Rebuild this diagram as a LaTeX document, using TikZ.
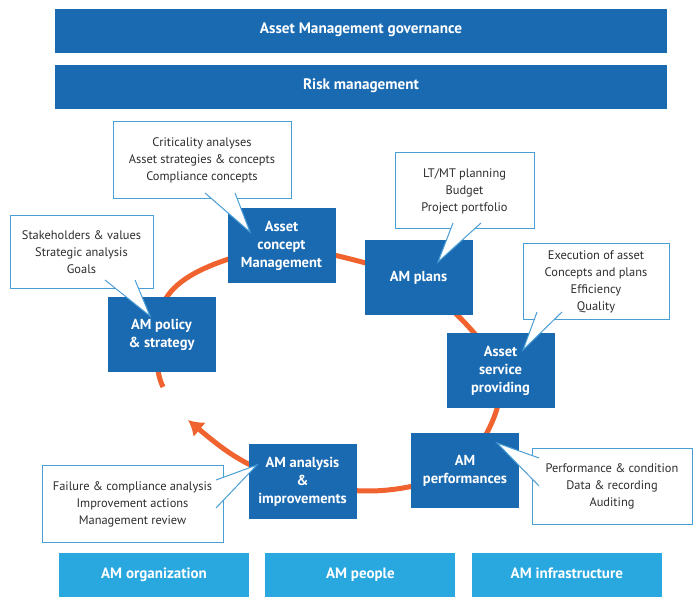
\documentclass[tikz,border=0pt]{standalone}
\usepackage{fontspec}
\setmainfont{PT Sans}
\usepackage{xcolor}
\usepackage{tikz}
\usetikzlibrary{arrows.meta,positioning}

\definecolor{amblue}{RGB}{26,106,178}
\definecolor{amlight}{RGB}{41,168,224}
\definecolor{amline}{RGB}{74,158,214}
\definecolor{amorange}{RGB}{240,98,46}
\definecolor{amtext}{RGB}{45,45,45}

\tikzset{
  bar/.style={fill=amblue, text=white, font=\bfseries\fontsize{15.2}{18}\selectfont,
    minimum width=612pt, minimum height=44pt, inner sep=0pt,
    text height=1.6ex, text depth=.4ex},
  pillar/.style={fill=amlight, text=white, font=\bfseries\fontsize{15}{18}\selectfont,
    minimum width=190pt, minimum height=44pt, inner sep=0pt,
    text height=1.6ex, text depth=.4ex},
  phase/.style={fill=amblue, text=white, font=\bfseries\fontsize{14.5}{18}\selectfont,
    align=center, minimum width=108pt, minimum height=75pt, inner sep=0pt},
  note/.style={draw=amline, line width=1pt, fill=white, text=amtext,
    font=\fontsize{12.4}{17}\selectfont, align=center, inner sep=0pt},
  ring/.style={draw=amorange, line width=5pt},
  tail/.style={draw=amline, line width=1pt}
}

\begin{document}
\begin{tikzpicture}[x=1pt, y=1pt, node distance=16pt]
\useasboundingbox (0,0) rectangle (693,597);

\node (gov) [bar] at (361,566) {Asset Management governance};
\node (risk) [bar] at (361,510) {Risk management};

\node (org) [pillar] at (154,22) {AM organization};
\node (people) [pillar, right=of org] {AM people};
\node (infra) [pillar, right=of people] {AM infrastructure};

\coordinate (policy) at (161.5,262.5);
\coordinate (concept) at (281.5,351.5);
\coordinate (plans) at (418.5,319.5);
\coordinate (service) at (500.5,226.5);
\coordinate (perf) at (465,126.5);
\coordinate (analysis) at (302.5,115.5);
\coordinate (stub) at (163,210);
\coordinate (head) at (188,177);

\draw[ring] (policy) to[out=105, in=192] (concept);
\draw[ring] (concept) to[out=-8, in=165] (plans);
\draw[ring] (plans) to[out=-45, in=120] (service);
\draw[ring] (service) to[out=-85, in=60] (perf);
\draw[ring] (perf) to[out=200, in=-15] (analysis);
\draw[ring] (policy) to[out=-100, in=115] (stub);
\draw[ring, -{Latex[length=15pt, width=19pt]}] (analysis) to[out=170, in=-40] (head);

\node (policy) [phase] at (policy) {AM policy\\\& strategy};
\node (concept) [phase] at (concept) {Asset\\concept\\Management};
\node (plans) [phase] at (plans) {AM plans};
\node (service) [phase] at (service) {Asset\\service\\providing};
\node (perf) [phase] at (perf) {AM\\performances};
\node (analysis) [phase] at (analysis) {AM analysis\\\&\\improvements};

\node (crit) [note, minimum width=178pt, minimum height=77pt] at (202,436.5)
  {Criticality analyses\\Asset strategies \& concepts\\Compliance concepts};
\node (budget) [note, minimum width=139pt, minimum height=76pt] at (464.5,406)
  {LT/MT planning\\Budget\\Project portfolio};
\node (stake) [note, minimum width=143pt, minimum height=73pt] at (81.5,344.5)
  {Stakeholders \& values\\Strategic analysis\\Goals};
\node (exec) [note, minimum width=146pt, minimum height=76pt] at (596,315)
  {Execution of asset\\Concepts and plans\\Efficiency\\Quality};
\node (fail) [note, minimum width=181pt, minimum height=76pt] at (132.5,93)
  {Failure \& compliance analysis\\Improvement actions\\Management review};
\node (cond) [note, minimum width=160pt, minimum height=75pt] at (612,110.5)
  {Performance \& condition\\Data \& recording\\Auditing};

\coordinate (critA) at (205,404);
\coordinate (critB) at (235,404);
\coordinate (critT) at (250,365);
\coordinate (stakeA) at (105,317);
\coordinate (stakeB) at (135,317);
\coordinate (stakeT) at (150,281);
\coordinate (budgetA) at (453,374);
\coordinate (budgetB) at (481,374);
\coordinate (budgetT) at (438,335);
\coordinate (execA) at (537,285);
\coordinate (execB) at (562,285);
\coordinate (execT) at (523,247);
\coordinate (condA) at (539,139);
\coordinate (condB) at (539,111);
\coordinate (condT) at (497,154);
\coordinate (failA) at (216,117);
\coordinate (failB) at (216,89);
\coordinate (failT) at (257,132);

\foreach \n in {crit,stake,budget,exec,cond,fail} {
  \fill[white] (\n A) -- (\n T) -- (\n B) -- cycle;
  \draw[tail] (\n A) -- (\n T) -- (\n B);
}
\end{tikzpicture}
\end{document}
